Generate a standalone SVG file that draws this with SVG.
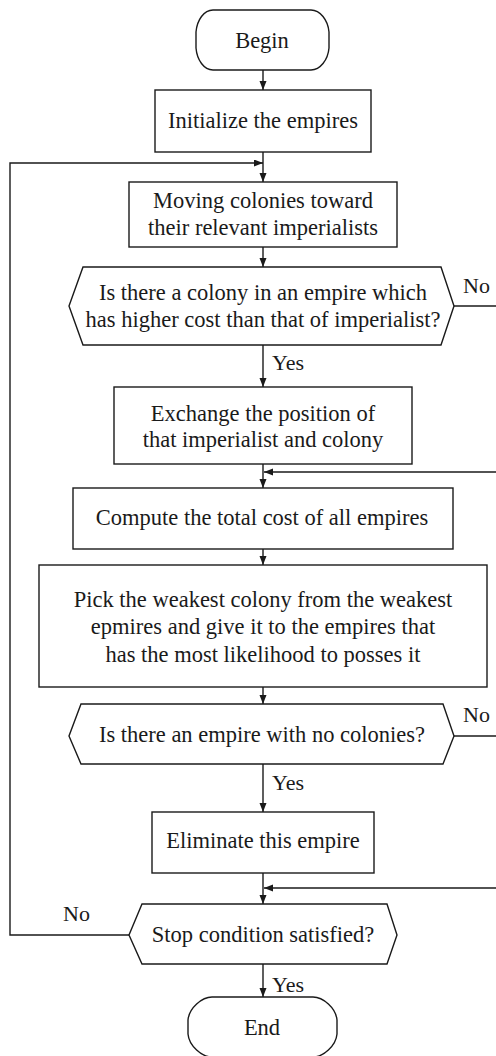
<svg xmlns="http://www.w3.org/2000/svg" width="496" height="1056" viewBox="0 0 496 1056">
<style>
.s{fill:#fff;stroke:#1a1a1a;stroke-width:1.4}
.c{fill:none;stroke:#1a1a1a;stroke-width:1.4}
text{font-family:"Liberation Serif","Times New Roman",serif;font-size:22.5px;fill:#1a1a1a}
.m{text-anchor:middle}
.l{font-size:22px}
</style>
<defs>
<marker id="a" markerUnits="userSpaceOnUse" markerWidth="10" markerHeight="8" refX="9" refY="3.5" orient="auto">
<path d="M0,0 L9,3.5 L0,7 z" fill="#1a1a1a"/>
</marker>
</defs>
<g id="connectors">
<path class="c" d="M263,70 V90" marker-end="url(#a)"/>
<path class="c" d="M263,152 V182" marker-end="url(#a)"/>
<path class="c" d="M129,935 H10 V163 H263" marker-end="url(#a)"/>
<path class="c" d="M263,247 V267" marker-end="url(#a)"/>
<path class="c" d="M454,306 H496"/>
<path class="c" d="M263,345 V387" marker-end="url(#a)"/>
<path class="c" d="M263,464 V488" marker-end="url(#a)"/>
<path class="c" d="M496,472 H264" marker-end="url(#a)"/>
<path class="c" d="M263,549 V565" marker-end="url(#a)"/>
<path class="c" d="M263,687 V704" marker-end="url(#a)"/>
<path class="c" d="M454,736 H496"/>
<path class="c" d="M263,764 V812" marker-end="url(#a)"/>
<path class="c" d="M263,873 V904" marker-end="url(#a)"/>
<path class="c" d="M496,888 H264" marker-end="url(#a)"/>
<path class="c" d="M263,964 V997" marker-end="url(#a)"/>
<text class="l" x="463" y="293">No</text>
<text class="l" x="272" y="370">Yes</text>
<text class="l" x="463" y="722">No</text>
<text class="l" x="272" y="790">Yes</text>
<text class="l" x="63" y="921">No</text>
<text class="l" x="272" y="992">Yes</text>
</g>
<g id="begin">
<path class="s" d="M213,10 H311 C320,10 328,20 329,32 V48 C328,60 320,70 311,70 H213 C204,70 197,60 196,48 V32 C197,20 204,10 213,10 Z"/>
<text class="m" x="262" y="48">Begin</text>
</g>
<g id="init">
<rect class="s" x="155" y="90" width="216" height="62"/>
<text class="m" x="263" y="128">Initialize the empires</text>
</g>
<g id="moving">
<rect class="s" x="129" y="182" width="268" height="65"/>
<text class="m" x="263" y="208">Moving colonies toward</text>
<text class="m" x="263" y="235">their relevant imperialists</text>
</g>
<g id="decision1">
<path class="s" d="M83,267 H441 L454,306 L441,345 H83 L69,306 Z"/>
<text class="m" x="263" y="300">Is there a colony in an empire which</text>
<text class="m" x="263" y="327">has higher cost than that of imperialist?</text>
</g>
<g id="exchange">
<rect class="s" x="114" y="387" width="298" height="77"/>
<text class="m" x="263" y="421">Exchange the position of</text>
<text class="m" x="263" y="447">that imperialist and colony</text>
</g>
<g id="compute">
<rect class="s" x="73" y="488" width="380" height="61"/>
<text class="m" x="262" y="525">Compute the total cost of all empires</text>
</g>
<g id="pick">
<rect class="s" x="39" y="565" width="448" height="122"/>
<text class="m" x="263" y="607">Pick the weakest colony from the weakest</text>
<text class="m" x="263" y="634">epmires and give it to the empires that</text>
<text class="m" x="263" y="662">has the most likelihood to posses it</text>
</g>
<g id="decision2">
<path class="s" d="M81,704 H443 L454,736 L443,764 H81 L69,736 Z"/>
<text class="m" x="262" y="742">Is there an empire with no colonies?</text>
</g>
<g id="eliminate">
<rect class="s" x="152" y="812" width="222" height="61"/>
<text class="m" x="263" y="848">Eliminate this empire</text>
</g>
<g id="decision3">
<path class="s" d="M142,904 H387 L397,935 L387,964 H142 L129,935 Z"/>
<text class="m" x="263" y="942">Stop condition satisfied?</text>
</g>
<g id="end">
<path class="s" d="M212,997 H313 C323,997 336,1008 337,1020 V1034 C336,1046 323,1057 313,1057 H212 C202,1057 189,1046 188,1034 V1020 C189,1008 202,997 212,997 Z"/>
<text class="m" x="262" y="1035">End</text>
</g>
</svg>
